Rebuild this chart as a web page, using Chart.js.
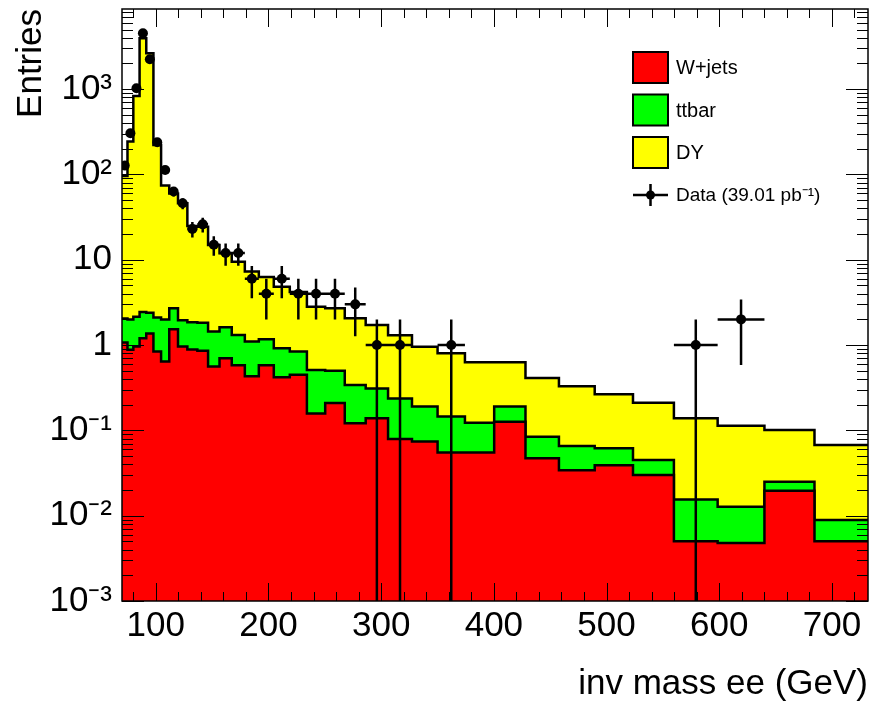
<!DOCTYPE html>
<html>
<head>
<meta charset="utf-8">
<title>inv mass ee</title>
<script src="https://cdn.jsdelivr.net/npm/chart.js@4.4.0/dist/chart.umd.min.js"></script>
<style>
  html, body { margin: 0; padding: 0; background: #fff; }
  #wrap { width: 873px; height: 705px; }
</style>
</head>
<body>
<div id="wrap"><canvas id="chart" width="873" height="705"></canvas></div>
<script>
// bin edges (GeV), 35 log-spaced bins
const binEdges = [
  70.00, 74.86, 80.05, 85.60, 91.54, 97.89, 104.68, 111.94, 119.70, 128.00,
  136.88, 146.38, 156.53, 167.39, 179.00, 191.42, 204.70, 218.90, 234.08, 250.32,
  267.68, 286.25, 306.10, 327.33, 350.04, 374.32, 400.28, 428.05, 457.74, 489.49,
  523.45, 559.76, 598.58, 640.10, 684.51, 732.00
];

// MC components per bin
const wjets = [
  1.07, 0.88, 0.96, 1.20, 1.37, 0.84, 0.64, 1.53, 0.96, 0.89,
  0.86, 0.56, 0.70, 0.58, 0.43, 0.58, 0.42, 0.45, 0.158, 0.21,
  0.121, 0.139, 0.079, 0.074, 0.055, 0.055, 0.126, 0.047, 0.034, 0.039,
  0.030, 0.005, 0.0048, 0.0196, 0.005
];
const ttbar = [
  0.98, 1.12, 1.19, 1.25, 1.03, 1.26, 1.36, 1.17, 0.99, 0.96,
  0.97, 0.88, 0.92, 0.73, 0.67, 0.59, 0.50, 0.39, 0.352, 0.29,
  0.219, 0.171, 0.157, 0.116, 0.090, 0.068, 0.064, 0.037, 0.0316, 0.0226,
  0.015, 0.0105, 0.0079, 0.0054, 0.0039
];
const drellYan = [
  94, 241, 830, 3953, 2634, 220, 72, 57, 44, 23,
  22.6, 13.5, 10.3, 8.2, 6.2, 5.1, 3.9, 3.36, 2.31, 2.2,
  1.72, 1.41, 1.07, 0.767, 0.655, 0.507, 0.44, 0.326, 0.264, 0.203,
  0.166, 0.1235, 0.1008, 0.076, 0.0586
];
// data entries per bin
const dataCounts = [
  127, 304, 1025, 4520, 2245, 239, 113, 63, 46, 23,
  26, 15, 12, 12, 6, 4, 6, 4, 4, 4,
  3, 1, 1, 0, 1, 0, 0, 0, 0, 0,
  0, 1, 2, 0, 0
];

const xTickLabels = [100, 200, 300, 400, 500, 600, 700];
const yTickValues = [0.001, 0.01, 0.1, 1, 10, 100, 1000];
const yTickLabels = ['10⁻³', '10⁻²', '10⁻¹', '1', '10', '10²', '10³'];

const X_MIN = 70, X_MAX = 732;
const Y_MIN = 0.001, Y_MAX = 8700;
const FONT = '"Liberation Sans", Arial, Helvetica, sans-serif';

function stackTops(...parts) {
  return binEdges.slice(0, -1).map((_, i) => parts.reduce((s, p) => s + p[i], 0));
}

// stepped line: one point per lower edge, plus the last upper edge
function stepPoints(tops) {
  const pts = tops.map((v, i) => ({ x: binEdges[i], y: v }));
  pts.push({ x: binEdges[binEdges.length - 1], y: tops[tops.length - 1] });
  return pts;
}

const binCenter = i => (binEdges[i] + binEdges[i + 1]) / 2;

const redTop    = stackTops(wjets);
const greenTop  = stackTops(wjets, ttbar);
const yellowTop = stackTops(wjets, ttbar, drellYan);

const dataPoints = dataCounts
  .map((n, i) => ({ x: binCenter(i), y: n }))
  .filter(p => p.y > 0);

// ROOT-style frame with inward ticks on all four sides
const rootFrame = {
  id: 'rootFrame',
  afterDatasetsDraw(chart) {
    const { ctx, chartArea: a, scales: { x, y } } = chart;
    ctx.save();
    ctx.strokeStyle = '#000';
    ctx.lineWidth = 1;
    ctx.beginPath();
    for (let v = 80; v < X_MAX; v += 20) {
      const px = Math.round(x.getPixelForValue(v)) + 0.5;
      const len = xTickLabels.includes(v) ? 18 : 9;
      ctx.moveTo(px, a.bottom); ctx.lineTo(px, a.bottom - len);
      ctx.moveTo(px, a.top);    ctx.lineTo(px, a.top + len);
    }
    for (let e = -3; e <= 3; e++) {
      for (let m = 1; m <= 9; m++) {
        const v = m * Math.pow(10, e);
        if (v > Y_MAX) break;
        const py = Math.round(y.getPixelForValue(v)) + 0.5;
        const len = m === 1 ? 22 : 11;
        ctx.moveTo(a.left, py);  ctx.lineTo(a.left + len, py);
        ctx.moveTo(a.right, py); ctx.lineTo(a.right - len, py);
      }
    }
    ctx.stroke();
    ctx.lineWidth = 1.5;
    ctx.strokeRect(a.left, a.top, a.right - a.left, a.bottom - a.top);
    ctx.restore();
  }
};

// sqrt(N) error bars on the data, x error = half bin width
const errorBars = {
  id: 'errorBars',
  afterDatasetsDraw(chart) {
    const { ctx, chartArea: a, scales: { x, y } } = chart;
    ctx.save();
    ctx.beginPath();
    ctx.rect(a.left, a.top, a.right - a.left, a.bottom - a.top);
    ctx.clip();
    ctx.strokeStyle = '#000';
    ctx.lineWidth = 2.5;
    ctx.beginPath();
    dataCounts.forEach((n, i) => {
      if (!n) return;
      const err = Math.sqrt(n);
      const xc = x.getPixelForValue(binCenter(i));
      const yc = y.getPixelForValue(n);
      const yHi = y.getPixelForValue(n + err);
      const yLo = n - err > 0 ? y.getPixelForValue(n - err) : a.bottom;
      ctx.moveTo(xc, yHi); ctx.lineTo(xc, yLo);
      ctx.moveTo(x.getPixelForValue(binEdges[i]), yc);
      ctx.lineTo(x.getPixelForValue(binEdges[i + 1]), yc);
    });
    ctx.stroke();
    ctx.restore();
  }
};

const legendEntries = [
  { label: 'W+jets', color: '#ff0000' },
  { label: 'ttbar',  color: '#00ff00' },
  { label: 'DY',     color: '#ffff00' },
  { label: 'Data (39.01 pb⁻¹)', marker: true },
];

const rootLegend = {
  id: 'rootLegend',
  afterDraw(chart) {
    const ctx = chart.ctx;
    const bx = 633, bw = 35, bh = 31, top = 52, step = 42.5;
    ctx.save();
    ctx.textBaseline = 'middle';
    ctx.fillStyle = '#000';
    legendEntries.forEach((e, i) => {
      const cy = top + bh / 2 + i * step;
      if (e.marker) {
        ctx.strokeStyle = '#000';
        ctx.lineWidth = 2.5;
        ctx.beginPath();
        ctx.moveTo(bx, cy); ctx.lineTo(bx + bw, cy);
        ctx.moveTo(bx + bw / 2, cy - 11); ctx.lineTo(bx + bw / 2, cy + 11);
        ctx.stroke();
        ctx.beginPath();
        ctx.arc(bx + bw / 2, cy, 4.5, 0, Math.PI * 2);
        ctx.fill();
        ctx.font = '19px ' + FONT;
      } else {
        ctx.fillStyle = e.color;
        ctx.fillRect(bx, cy - bh / 2, bw, bh);
        ctx.strokeStyle = '#000';
        ctx.lineWidth = 2;
        ctx.strokeRect(bx, cy - bh / 2, bw, bh);
        ctx.font = '20px ' + FONT;
      }
      ctx.fillStyle = '#000';
      ctx.fillText(e.label, bx + bw + 8, cy + 1);
    });
    ctx.restore();
  }
};

const histo = (label, tops, color) => ({
  label,
  data: stepPoints(tops),
  stepped: true,
  borderColor: '#000',
  borderWidth: 2.5,
  backgroundColor: color,
  pointRadius: 0,
  fill: label === 'W+jets' ? 'start' : '-1',
});

new Chart(document.getElementById('chart'), {
  type: 'line',
  data: {
    datasets: [
      histo('W+jets', redTop, '#ff0000'),
      histo('ttbar', greenTop, '#00ff00'),
      histo('DY', yellowTop, '#ffff00'),
      {
        label: 'Data',
        data: dataPoints,
        showLine: false,
        pointRadius: 5,
        pointBackgroundColor: '#000',
        pointBorderWidth: 0,
        order: -1,
      },
    ],
  },
  options: {
    responsive: false,
    animation: false,
    layout: { padding: { top: 9, right: 3, left: 0, bottom: 0 } },
    plugins: {
      legend: { display: false },
      tooltip: { enabled: false },
    },
    scales: {
      x: {
        type: 'linear',
        min: X_MIN,
        max: X_MAX,
        afterBuildTicks: s => { s.ticks = xTickLabels.map(v => ({ value: v })); },
        afterFit: s => { s.height = 104; s.paddingLeft = 0; s.paddingRight = 0; },
        grid: { display: false, drawTicks: false },
        border: { display: false },
        ticks: {
          color: '#000',
          padding: 4,
          maxRotation: 0,
          autoSkip: false,
          font: { family: FONT, size: 35 },
          callback: v => String(v),
        },
        title: {
          display: true,
          text: 'inv mass ee (GeV)',
          align: 'end',
          color: '#000',
          padding: { top: 0, bottom: 0 },
          font: { family: FONT, size: 35 },
        },
      },
      y: {
        type: 'logarithmic',
        min: Y_MIN,
        max: Y_MAX,
        afterBuildTicks: s => { s.ticks = yTickValues.map(v => ({ value: v })); },
        afterFit: s => { s.width = 122; s.paddingTop = 0; s.paddingBottom = 0; },
        grid: { display: false, drawTicks: false },
        border: { display: false },
        ticks: {
          color: '#000',
          padding: 10,
          autoSkip: false,
          font: { family: FONT, size: 35 },
          callback: v => yTickLabels[yTickValues.indexOf(v)] ?? '',
        },
        title: {
          display: true,
          text: 'Entries',
          align: 'end',
          color: '#000',
          padding: { top: 10, bottom: 0 },
          font: { family: FONT, size: 35 },
        },
      },
    },
  },
  plugins: [rootFrame, errorBars, rootLegend],
});
</script>
</body>
</html>
